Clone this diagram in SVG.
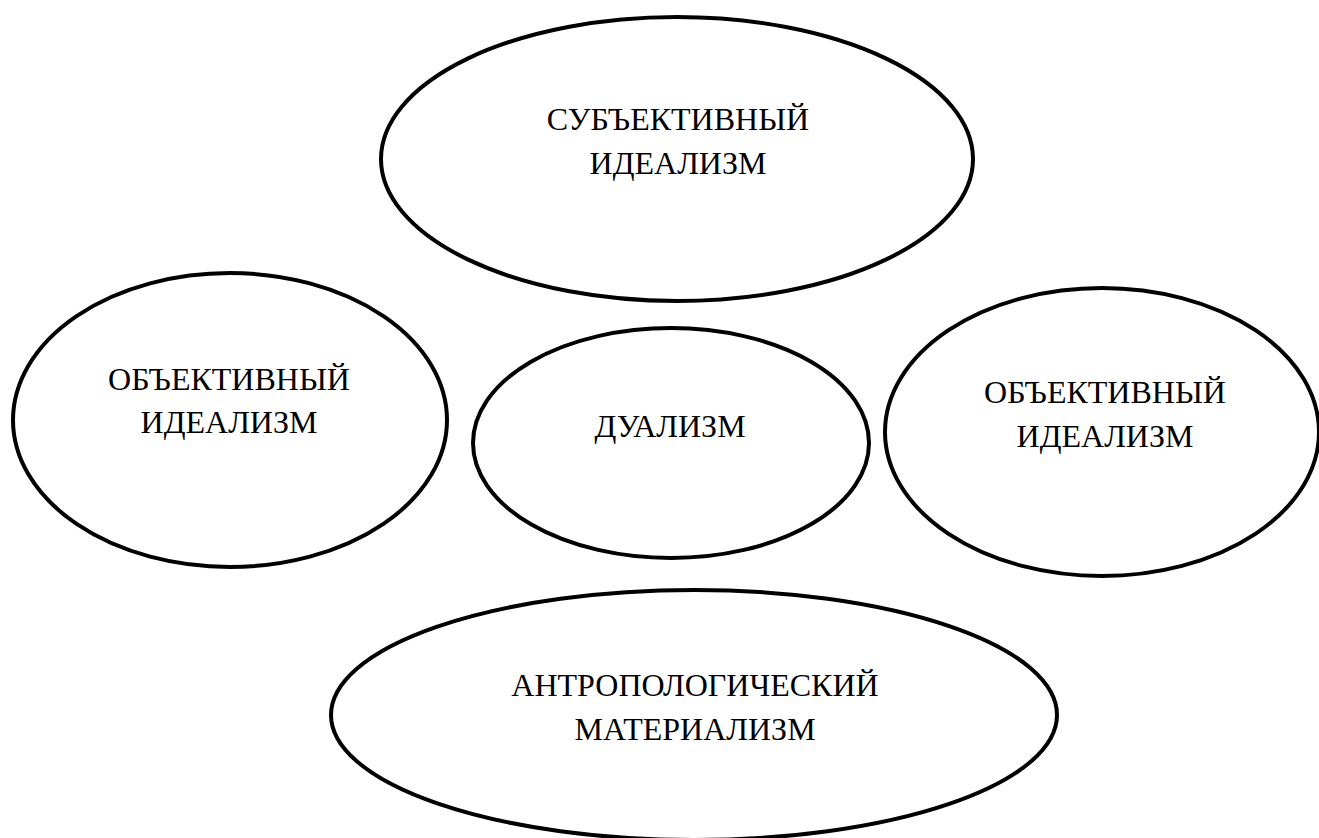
<svg xmlns="http://www.w3.org/2000/svg" width="1319" height="838" viewBox="0 0 1319 838">
<style>
ellipse.shape{fill:#fff;stroke:#000;stroke-width:4}
text.label{font-size:32px;fill:#000;text-anchor:middle}
</style>
<rect width="1319" height="838" fill="#fff"/>
<g font-family="'Liberation Serif', 'Times New Roman', 'DejaVu Serif', serif">
<g id="subjective-idealism">
<ellipse class="shape" cx="677" cy="159" rx="296" ry="142"/>
<text class="label" x="678" y="130">СУБЪЕКТИВНЫЙ</text>
<text class="label" x="678" y="174">ИДЕАЛИЗМ</text>
</g>
<g id="objective-idealism-left">
<ellipse class="shape" cx="230" cy="420" rx="217" ry="147"/>
<text class="label" x="229" y="390">ОБЪЕКТИВНЫЙ</text>
<text class="label" x="229" y="433">ИДЕАЛИЗМ</text>
</g>
<g id="dualism">
<ellipse class="shape" cx="671" cy="443" rx="198" ry="115"/>
<text class="label" x="670" y="437">ДУАЛИЗМ</text>
</g>
<g id="objective-idealism-right">
<ellipse class="shape" cx="1102" cy="432" rx="217" ry="144"/>
<text class="label" x="1105" y="403">ОБЪЕКТИВНЫЙ</text>
<text class="label" x="1105" y="447">ИДЕАЛИЗМ</text>
</g>
<g id="anthropological-materialism">
<ellipse class="shape" cx="694" cy="715" rx="363" ry="125"/>
<text class="label" x="695" y="696">АНТРОПОЛОГИЧЕСКИЙ</text>
<text class="label" x="695" y="740">МАТЕРИАЛИЗМ</text>
</g>
</g>
</svg>
